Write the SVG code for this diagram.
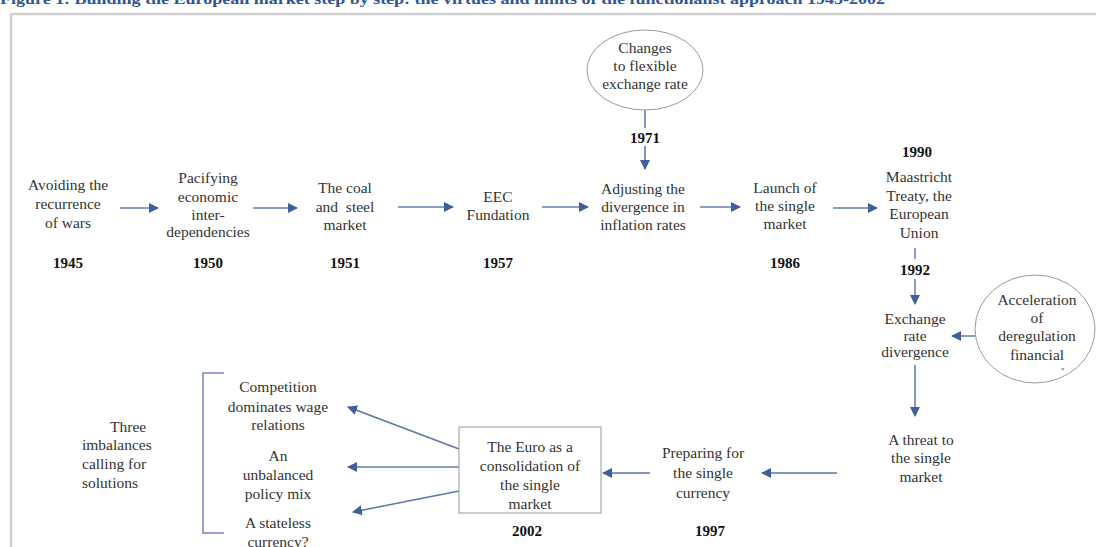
<svg xmlns="http://www.w3.org/2000/svg" width="1096" height="547" viewBox="0 0 1096 547">
<style>
.t{font-family:"Liberation Serif","Times New Roman",serif;font-size:15.5px;fill:#333;text-anchor:middle}
.y{font-family:"Liberation Serif","Times New Roman",serif;font-size:15px;font-weight:bold;fill:#111;text-anchor:middle}
.l{font-family:"Liberation Serif","Times New Roman",serif;font-size:15.5px;fill:#333;text-anchor:start}
.c{fill:none;stroke:#8a9dc4;stroke-width:2}
.d{fill:none;stroke:#5a75aa;stroke-width:1.5}
.sh{fill:#fff;stroke:#999;stroke-width:1}
</style>
<defs>
<marker id="ah" viewBox="0 0 10 10" refX="9" refY="5" markerWidth="7" markerHeight="7" markerUnits="userSpaceOnUse" orient="auto">
<path d="M0,0 L10,5 L0,10 z" fill="#3f5e9c"/>
</marker>
<marker id="ah2" viewBox="0 0 10 10" refX="9" refY="5" markerWidth="10" markerHeight="10" markerUnits="userSpaceOnUse" orient="auto">
<path d="M0,0 L10,5 L0,10 z" fill="#3f5e9c"/>
</marker>
</defs>
<rect width="1096" height="547" fill="#fff"/>
<text x="0" y="4" textLength="885" lengthAdjust="spacingAndGlyphs" style="font-family:'Liberation Serif',serif;font-size:14px;font-weight:bold;fill:#2f5597">Figure 1: Building the European market step by step: the virtues and limits of the functionalist approach 1945-2002</text>
<path d="M11,547 V14 H1096" fill="none" stroke="#d0d0d0" stroke-width="2.5"/>

<g id="connectors">
<line class="c" x1="120" y1="208" x2="158" y2="208" marker-end="url(#ah2)"/>
<line class="c" x1="253" y1="208" x2="297" y2="208" marker-end="url(#ah2)"/>
<line class="c" x1="398" y1="207" x2="453" y2="207" marker-end="url(#ah2)"/>
<line class="c" x1="542" y1="207" x2="588" y2="207" marker-end="url(#ah2)"/>
<line class="c" x1="700" y1="207" x2="740" y2="207" marker-end="url(#ah2)"/>
<line class="c" x1="833" y1="208" x2="877" y2="208" marker-end="url(#ah2)"/>
<path class="d" d="M645,110 V128 M645,146 V169" marker-end="url(#ah2)"/>
<path class="c" d="M915,248 V259 M915,279 V304" marker-end="url(#ah2)"/>
<line class="c" x1="977" y1="336" x2="952" y2="336" marker-end="url(#ah2)"/>
<line class="d" x1="915" y1="365" x2="915" y2="416" marker-end="url(#ah2)"/>
<line class="d" x1="837" y1="473" x2="762" y2="473" marker-end="url(#ah2)"/>
<line class="d" x1="650" y1="473" x2="603" y2="473" marker-end="url(#ah2)"/>
<line class="d" x1="459" y1="449" x2="348" y2="407" marker-end="url(#ah2)"/>
<line class="c" x1="459" y1="467" x2="348" y2="467" marker-end="url(#ah2)"/>
<line class="d" x1="459" y1="491" x2="353" y2="512" marker-end="url(#ah2)"/>
</g>

<g id="n1945"><text class="t" x="68" y="190">Avoiding the</text><text class="t" x="68" y="209">recurrence</text><text class="t" x="68" y="228">of wars</text><text class="y" x="68" y="268">1945</text></g>
<g id="n1950"><text class="t" x="208" y="183">Pacifying</text><text class="t" x="208" y="202">economic</text><text class="t" x="208" y="220">inter-</text><text class="t" x="208" y="237">dependencies</text><text class="y" x="208" y="268">1950</text></g>
<g id="n1951"><text class="t" x="345" y="193">The coal</text><text class="t" x="345" y="212">and&#160; steel</text><text class="t" x="345" y="230">market</text><text class="y" x="345" y="268">1951</text></g>
<g id="n1957"><text class="t" x="498" y="202">EEC</text><text class="t" x="498" y="220">Fundation</text><text class="y" x="498" y="268">1957</text></g>
<g id="nflex"><ellipse class="sh" cx="645" cy="70" rx="58" ry="40"/><text class="t" x="645" y="53">Changes</text><text class="t" x="645" y="71">to flexible</text><text class="t" x="645" y="89">exchange rate</text><text class="y" x="645" y="143">1971</text></g>
<g id="ninfl"><text class="t" x="643" y="194">Adjusting the</text><text class="t" x="643" y="212">divergence in</text><text class="t" x="643" y="230">inflation rates</text></g>
<g id="n1986"><text class="t" x="785" y="193">Launch of</text><text class="t" x="785" y="211">the single</text><text class="t" x="785" y="229">market</text><text class="y" x="785" y="268">1986</text></g>
<g id="n1990"><text class="y" x="917" y="157">1990</text><text class="t" x="919" y="182">Maastricht</text><text class="t" x="919" y="201">Treaty, the</text><text class="t" x="919" y="219">European</text><text class="t" x="919" y="238">Union</text><text class="y" x="915" y="275">1992</text></g>
<g id="nexch"><text class="t" x="915" y="324">Exchange</text><text class="t" x="915" y="341">rate</text><text class="t" x="915" y="357">divergence</text></g>
<g id="ndereg"><ellipse class="sh" cx="1035" cy="329" rx="60" ry="54"/><text class="t" x="1037" y="305">Acceleration</text><text class="t" x="1037" y="323">of</text><text class="t" x="1037" y="341">deregulation</text><text class="t" x="1037" y="360">financial</text><text x="1061" y="372" style="font-family:'Liberation Serif',serif;font-size:7px;fill:#333">*</text></g>
<g id="nthreat"><text class="t" x="921" y="445">A threat to</text><text class="t" x="921" y="463">the single</text><text class="t" x="921" y="482">market</text></g>
<g id="n1997"><text class="t" x="703" y="458">Preparing for</text><text class="t" x="703" y="478">the single</text><text class="t" x="703" y="498">currency</text><text class="y" x="710" y="536">1997</text></g>
<g id="n2002"><rect class="sh" x="459" y="427" width="142" height="86"/><text class="t" x="530" y="452">The Euro as a</text><text class="t" x="530" y="471">consolidation of</text><text class="t" x="530" y="490">the single</text><text class="t" x="530" y="509">market</text><text class="y" x="527" y="536">2002</text></g>
<g id="nthree"><text class="l" x="110" y="432">Three</text><text class="l" x="82" y="450">imbalances</text><text class="l" x="82" y="469">calling for</text><text class="l" x="82" y="488">solutions</text></g>
<g id="nbracket"><path d="M224,373 H203 V533 H224" fill="none" stroke="#7488b4" stroke-width="1.5"/></g>
<g id="ncomp"><text class="t" x="278" y="392">Competition</text><text class="t" x="278" y="412">dominates wage</text><text class="t" x="278" y="430">relations</text></g>
<g id="npolicy"><text class="t" x="278" y="461">An</text><text class="t" x="278" y="480">unbalanced</text><text class="t" x="278" y="499">policy mix</text></g>
<g id="nstateless"><text class="t" x="278" y="528">A stateless</text><text class="t" x="278" y="547">currency?</text></g>
</svg>
